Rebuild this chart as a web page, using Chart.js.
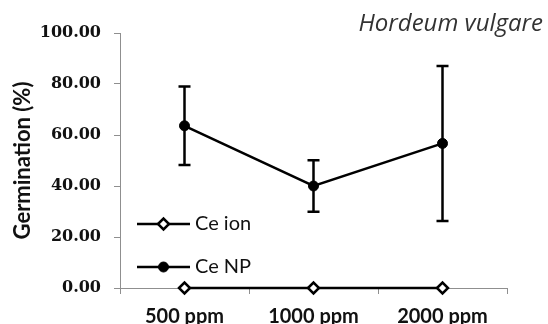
<!DOCTYPE html>
<html>
<head>
<meta charset="utf-8">
<script src="https://cdn.jsdelivr.net/npm/chart.js@4"></script>
<style>
  html, body { margin: 0; padding: 0; background: #fff; }
  #wrap { width: 548px; height: 324px; }
</style>
</head>
<body>
<div id="wrap"><canvas id="germChart" width="548" height="324"></canvas></div>
<script>
// concentrations on the x axis
const doses = ['500 ppm', '1000 ppm', '2000 ppm'];

// mean germination (%) and standard deviation per dose
const ceIon = [0, 0, 0];
const ceIonErr = [0, 0, 0];
const ceNP = [63.6, 40.0, 56.7];
const ceNPErr = [15.4, 10.1, 30.4];

const yTicks = [0, 20, 40, 60, 80, 100];
const speciesName = 'Hordeum vulgare';

const axisGray = '#8f8f8f';

// vertical error bars with flat caps, drawn under the markers
const errorBars = {
  id: 'errorBars',
  beforeDatasetsDraw(chart) {
    const ctx = chart.ctx;
    const y = chart.scales.y;
    chart.data.datasets.forEach((ds, di) => {
      if (!ds.errors) return;
      const meta = chart.getDatasetMeta(di);
      ctx.save();
      ctx.strokeStyle = '#000';
      ctx.lineWidth = 2.5;
      meta.data.forEach((pt, i) => {
        const e = ds.errors[i];
        if (!e) return;
        const top = y.getPixelForValue(ds.data[i] + e);
        const bot = y.getPixelForValue(ds.data[i] - e);
        const cap = 6;
        ctx.beginPath();
        ctx.moveTo(pt.x, top); ctx.lineTo(pt.x, bot);
        ctx.moveTo(pt.x - cap, top); ctx.lineTo(pt.x + cap, top);
        ctx.moveTo(pt.x - cap, bot); ctx.lineTo(pt.x + cap, bot);
        ctx.stroke();
      });
      ctx.restore();
    });
  }
};

// legend sitting inside the plot, lower left
const insideLegend = {
  id: 'insideLegend',
  afterDraw(chart) {
    const ctx = chart.ctx;
    const a = chart.chartArea;
    const x0 = a.left + 17, x1 = a.left + 70, xm = (x0 + x1) / 2;
    const rows = [a.top + 191, a.top + 234];
    chart.data.datasets.forEach((ds, i) => {
      const yy = rows[i];
      ctx.save();
      ctx.strokeStyle = ds.borderColor;
      ctx.lineWidth = ds.borderWidth;
      ctx.beginPath();
      ctx.moveTo(x0, yy); ctx.lineTo(x1, yy);
      ctx.stroke();
      ctx.fillStyle = ds.pointBackgroundColor;
      ctx.strokeStyle = ds.pointBorderColor;
      ctx.lineWidth = ds.pointBorderWidth;
      Chart.helpers.drawPoint(ctx, {pointStyle: ds.pointStyle, radius: ds.pointRadius, borderWidth: ds.pointBorderWidth}, xm, yy);
      ctx.fillStyle = '#111';
      ctx.font = '20px Lato';
      ctx.textAlign = 'left';
      ctx.textBaseline = 'middle';
      ctx.fillText(ds.label, x1 + 5, yy);
      ctx.restore();
    });
  }
};

// species name, top right corner
const speciesTitle = {
  id: 'speciesTitle',
  afterDraw(chart) {
    const ctx = chart.ctx;
    ctx.save();
    ctx.fillStyle = '#333';
    ctx.font = 'italic 24px "Open Sans"';
    ctx.textAlign = 'right';
    ctx.textBaseline = 'alphabetic';
    ctx.fillText(speciesName, chart.width - 5, 31);
    ctx.restore();
  }
};

new Chart(document.getElementById('germChart'), {
  type: 'line',
  data: {
    labels: doses,
    datasets: [{
      label: 'Ce ion',
      data: ceIon,
      errors: ceIonErr,
      borderColor: '#000',
      borderWidth: 2.5,
      pointStyle: 'rectRot',
      pointRadius: 5.5,
      pointBorderWidth: 2.5,
      pointBackgroundColor: '#fff',
      pointBorderColor: '#000',
      clip: false
    }, {
      label: 'Ce NP',
      data: ceNP,
      errors: ceNPErr,
      borderColor: '#000',
      borderWidth: 2.5,
      pointStyle: 'circle',
      pointRadius: 5,
      pointBorderWidth: 1,
      pointBackgroundColor: '#000',
      pointBorderColor: '#000',
      clip: false
    }]
  },
  options: {
    responsive: false,
    animation: false,
    layout: { padding: { top: 33, right: 41, left: 0, bottom: 0 } },
    plugins: {
      legend: { display: false },
      tooltip: { enabled: false }
    },
    scales: {
      x: {
        offset: true,
        grid: { display: true, offset: true, drawOnChartArea: false, color: axisGray, tickLength: 6 },
        border: { color: axisGray, width: 1 },
        ticks: { color: '#111', font: { family: 'Lato', weight: 'bold', size: 20 }, padding: 11, maxRotation: 0 },
        afterFit(s) { s.height = 36; }
      },
      y: {
        min: 0,
        max: 100,
        afterBuildTicks(s) { s.ticks = yTicks.map(v => ({ value: v })); },
        grid: { display: true, drawOnChartArea: false, color: axisGray, tickLength: 6 },
        border: { color: axisGray, width: 1 },
        ticks: {
          color: '#111',
          font: { family: 'DejaVu Serif', weight: 'bold', size: 16 },
          padding: 13,
          callback: v => Number(v).toFixed(2)
        },
        title: {
          display: true,
          text: 'Germination (%)',
          color: '#111',
          font: { family: 'Lato', weight: 'bold', size: 22 },
          padding: { top: 10, bottom: 0 }
        },
        afterFit(s) { s.width = 120; }
      }
    }
  },
  plugins: [errorBars, insideLegend, speciesTitle]
});
</script>
</body>
</html>
